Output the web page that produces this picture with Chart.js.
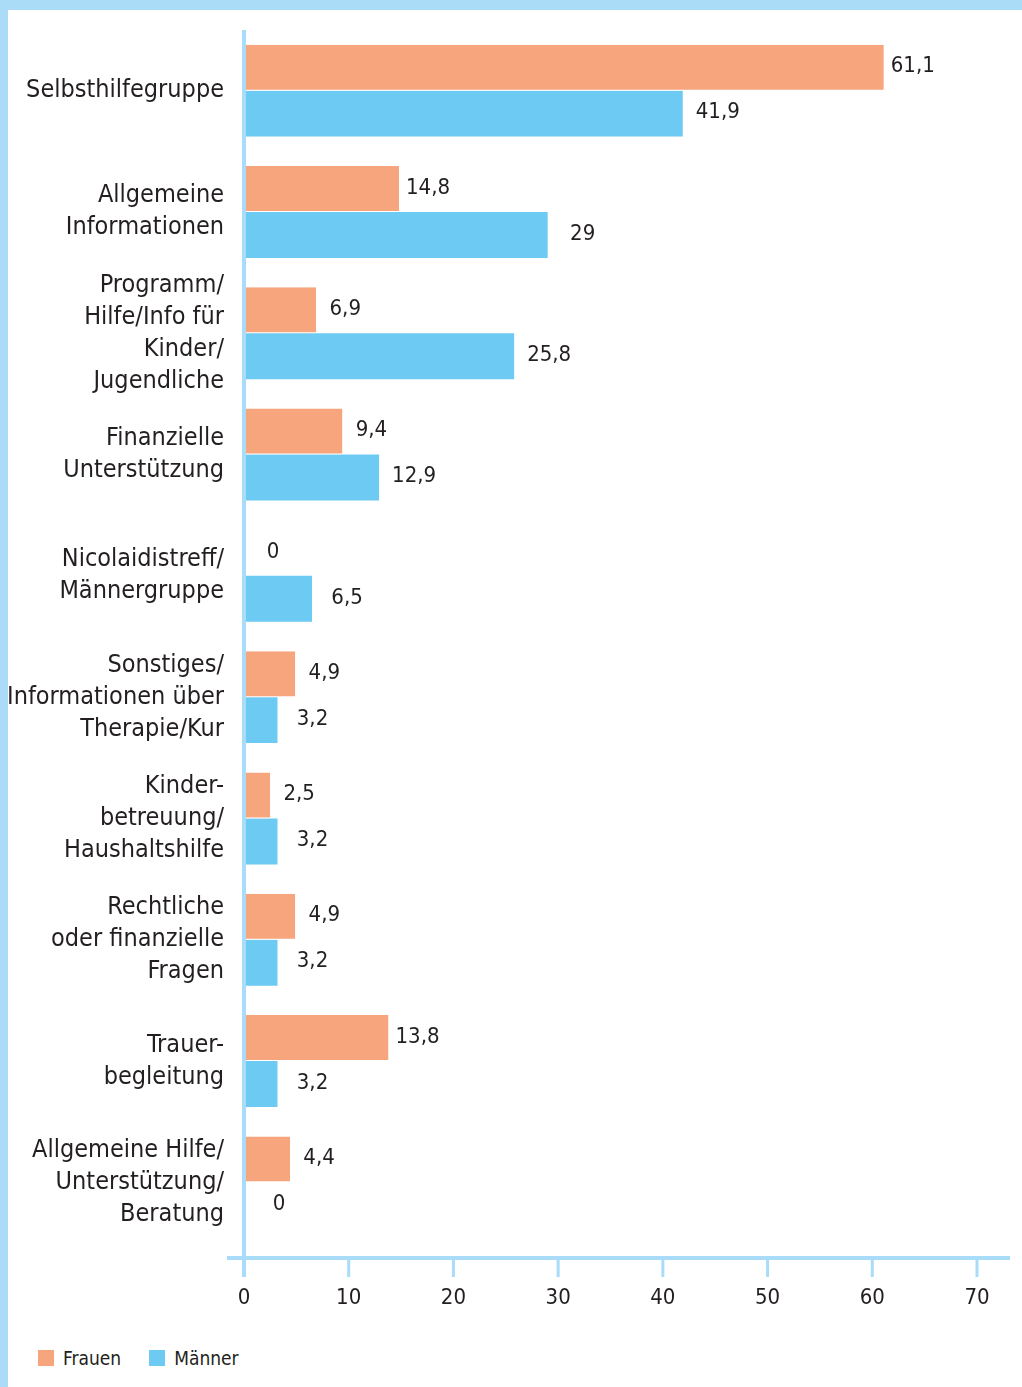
<!DOCTYPE html>
<html lang="de">
<head>
    <meta charset="UTF-8">
    <title>Gewünschte Angebote</title>
    <script src="https://cdn.jsdelivr.net/npm/chart.js"></script>
    <style>
        body {
            margin: 0;
            background: #fff;
            font-family: "DejaVu Sans Condensed", "Liberation Sans Narrow", sans-serif;
            color: #231f20;
        }
        .frame {
            position: absolute;
            left: 0; top: 0;
            width: 1022px; height: 1387px;
            box-sizing: border-box;
            border-top: 10px solid #aadcf8;
            border-left: 8px solid #aadcf8;
        }
        .chart-box {
            position: absolute;
            left: 0; top: 0;
            width: 1022px; height: 1330px;
        }
        .legend {
            position: absolute;
            left: 38px; top: 1345px;
            display: flex;
            font-size: 19px;
            line-height: 26px;
        }
        .legend span.item { display: flex; align-items: center; margin-right: 28px; }
        .legend i { display: inline-block; width: 16px; height: 16px; margin-right: 9px; }
    </style>
</head>
<body>
    <div class="frame"></div>
    <div class="chart-box"><canvas id="chart"></canvas></div>
    <div class="legend" id="legend"></div>

<script>
    // chart data
    const categories = [
        'Selbsthilfegruppe',
        ['Allgemeine', 'Informationen'],
        ['Programm/', 'Hilfe/Info für', 'Kinder/', 'Jugendliche'],
        ['Finanzielle', 'Unterstützung'],
        ['Nicolaidistreff/', 'Männergruppe'],
        ['Sonstiges/', 'Informationen über', 'Therapie/Kur'],
        ['Kinder-', 'betreuung/', 'Haushaltshilfe'],
        ['Rechtliche', 'oder finanzielle', 'Fragen'],
        ['Trauer-', 'begleitung'],
        ['Allgemeine Hilfe/', 'Unterstützung/', 'Beratung']
    ];
    const frauen = [61.1, 14.8, 6.9, 9.4, 0, 4.9, 2.5, 4.9, 13.8, 4.4];
    const maenner = [41.9, 29, 25.8, 12.9, 6.5, 3.2, 3.2, 3.2, 3.2, 0];
    const seriesNames = ['Frauen', 'Männer'];
    const xTicks = [0, 10, 20, 30, 40, 50, 60, 70];

    const FONT = '"DejaVu Sans Condensed", "Liberation Sans Narrow", sans-serif';
    const TEXT = '#231f20';
    const AXIS = '#a9dcf8';
    const colors = ['#f7a57c', '#6ccaf3'];

    // value labels next to the bars
    const valueLabels = {
        id: 'valueLabels',
        afterDatasetsDraw(chart) {
            const ctx = chart.ctx;
            ctx.save();
            ctx.font = '22px ' + FONT;
            ctx.fillStyle = TEXT;
            ctx.textAlign = 'center';
            ctx.textBaseline = 'middle';
            chart.data.datasets.forEach((ds, i) => {
                const offset = i === 0 ? 29 : 35;
                chart.getDatasetMeta(i).data.forEach((bar, j) => {
                    const txt = String(ds.data[j]).replace('.', ',');
                    ctx.fillText(txt, bar.x + offset, bar.y - 1);
                });
            });
            ctx.restore();
        }
    };

    // light blue axis lines with tick marks
    const axisLines = {
        id: 'axisLines',
        afterDatasetsDraw(chart) {
            const ctx = chart.ctx;
            const x = chart.scales.x;
            const area = chart.chartArea;
            const x0 = x.getPixelForValue(0);
            const lineY = area.bottom + 15;
            ctx.save();
            ctx.strokeStyle = AXIS;
            ctx.lineWidth = 4;
            ctx.beginPath();
            ctx.moveTo(x0, area.top);
            ctx.lineTo(x0, lineY + 19);
            ctx.moveTo(x0 - 17, lineY);
            ctx.lineTo(area.right + 33, lineY);
            ctx.stroke();
            ctx.lineWidth = 3;
            ctx.beginPath();
            xTicks.forEach(v => {
                const px = x.getPixelForValue(v);
                ctx.moveTo(px, lineY);
                ctx.lineTo(px, lineY + 19);
            });
            ctx.stroke();
            ctx.restore();
        }
    };

    new Chart(document.getElementById('chart'), {
        type: 'bar',
        data: {
            labels: categories,
            datasets: [
                {
                    label: seriesNames[0],
                    data: frauen,
                    backgroundColor: colors[0],
                    borderColor: '#fff',
                    borderWidth: { top: 0, right: 0, bottom: 1, left: 0 },
                    borderSkipped: false
                },
                {
                    label: seriesNames[1],
                    data: maenner,
                    backgroundColor: colors[1],
                    borderWidth: 0
                }
            ]
        },
        options: {
            indexAxis: 'y',
            responsive: true,
            maintainAspectRatio: false,
            animation: false,
            devicePixelRatio: 1,
            layout: { padding: { top: 30, right: 45, bottom: 7, left: 0 } },
            datasets: { bar: { barPercentage: 1, categoryPercentage: 0.758 } },
            plugins: {
                legend: { display: false },
                tooltip: { enabled: false }
            },
            scales: {
                x: {
                    min: 0,
                    max: 70,
                    grid: { display: false, drawTicks: false },
                    border: { display: false },
                    ticks: {
                        stepSize: 10,
                        padding: 42,
                        color: TEXT,
                        font: { family: FONT, size: 22 }
                    },
                    afterFit(scale) {
                        scale.height = 80;
                        scale.paddingLeft = 0;
                        scale.paddingRight = 0;
                    }
                },
                y: {
                    grid: { display: false, drawTicks: false },
                    border: { display: false },
                    ticks: {
                        padding: 20,
                        color: TEXT,
                        font: { family: FONT, size: 25, lineHeight: '32px' },
                        autoSkip: false
                    },
                    afterFit(scale) {
                        scale.width = 244;
                        scale.paddingTop = 0;
                        scale.paddingBottom = 0;
                    }
                }
            }
        },
        plugins: [valueLabels, axisLines]
    });

    // legend below the chart
    const legend = document.getElementById('legend');
    seriesNames.forEach((name, i) => {
        const item = document.createElement('span');
        item.className = 'item';
        item.innerHTML = '<i style="background:' + colors[i] + '"></i>' + name;
        legend.appendChild(item);
    });
</script>
</body>
</html>
